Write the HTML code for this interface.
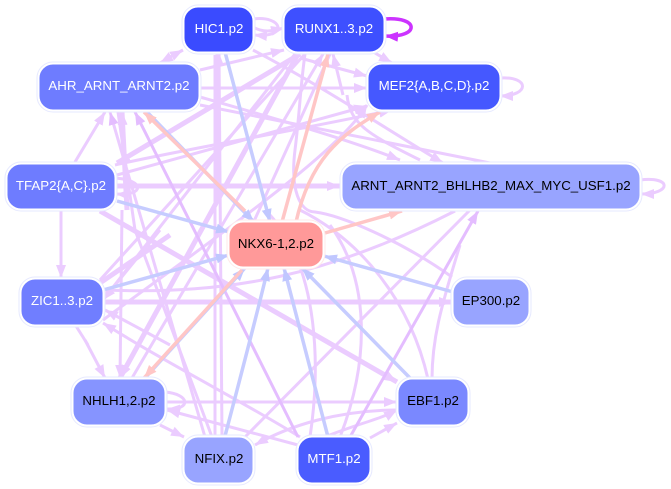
<!DOCTYPE html>
<html><head><meta charset="utf-8"><style>
html,body{margin:0;padding:0;background:#fff}
svg{display:block}
text{font-family:"Liberation Sans",sans-serif;font-size:13.3px;text-anchor:middle}
.p path{fill:none;stroke:#ebccff;stroke-width:3}
.t path{fill:none;stroke:#ebccff;stroke-width:5}
.d path{fill:none;stroke:#e4bdff;stroke-width:3}
.b path{fill:none;stroke:#c6ccff;stroke-width:3.5}
.s path{fill:none;stroke:#ffc6c6;stroke-width:3.5}
.n rect{stroke-width:1;stroke:#fff}
.o rect{fill:#fff;stroke:#e6e9ff;stroke-width:1}
</style></head><body>
<svg width="671" height="489" viewBox="0 0 671 489" xmlns="http://www.w3.org/2000/svg">
<defs>
<marker id="mp" markerUnits="userSpaceOnUse" markerWidth="14" markerHeight="12" refX="13" refY="6" orient="auto"><path d="M0 1L13 6L0 11Z" fill="#ebccff"/></marker>
<marker id="md" markerUnits="userSpaceOnUse" markerWidth="14" markerHeight="12" refX="13" refY="6" orient="auto"><path d="M0 1L13 6L0 11Z" fill="#e4bdff"/></marker>
<marker id="mb" markerUnits="userSpaceOnUse" markerWidth="14" markerHeight="12" refX="13" refY="6" orient="auto"><path d="M0 1L13 6L0 11Z" fill="#c0c7ff"/></marker>
<marker id="ms" markerUnits="userSpaceOnUse" markerWidth="14" markerHeight="12" refX="13" refY="6" orient="auto"><path d="M0 1L13 6L0 11Z" fill="#ffc6c6"/></marker>
<marker id="mv" markerUnits="userSpaceOnUse" markerWidth="14" markerHeight="12" refX="13" refY="6" orient="auto"><path d="M0 1L13 6L0 11Z" fill="#cc33ff"/></marker>
</defs>

<g class="p">
<path marker-end="url(#mp)" d="M172 56L183 50"/>
<path marker-end="url(#mp)" d="M172 56L160 63"/>
<path marker-end="url(#mp)" d="M200 70L284 50"/>
<path marker-end="url(#mp)" d="M200 88L367 88"/>
<path marker-end="url(#mp)" d="M300 58L367 76"/>
<path marker-end="url(#mp)" d="M200 97C280 120 350 140 400 160"/>
<path marker-end="url(#mp)" d="M75 162L105 112"/>
<path marker-end="url(#mp)" d="M61 211L61 278"/>
<path marker-end="url(#mp)" d="M117 175L367 106"/>
<path marker-end="url(#mp)" d="M115 178C145 180 145 196 116 194"/>
<path d="M253 19C282 15 290 38 254 35" marker-end="url(#mp)"/>
<path marker-end="url(#mp)" d="M253 27C265 34 275 30 284 28"/>
<path marker-end="url(#mp)" d="M253 50C320 85 380 125 443 163"/>
<path marker-end="url(#mp)" d="M500 78C530 76 530 96 500 96"/>
<path marker-end="url(#mp)" d="M640 180C672 176 672 194 641 194"/>
<path marker-end="url(#mp)" d="M375 53L392 63"/>
<path d="M88 345L76 326"/><path marker-end="url(#mp)" d="M85 340L105 378"/>
<path marker-end="url(#mp)" d="M122 210L120 378"/>
<path marker-end="url(#mp)" d="M300 437C240 400 170 365 103 323"/>
<path marker-end="url(#mp)" d="M165 402L397 402"/>
<path marker-end="url(#mp)" d="M165 392C190 394 192 410 167 409"/>
<path marker-end="url(#mp)" d="M160 425L184 437"/>
<path marker-end="url(#mp)" d="M370 438L397 423"/>
<path marker-end="url(#mp)" d="M298 445L167 410"/>
<path marker-end="url(#mp)" d="M300 447C350 425 380 420 397 410"/>
<path marker-end="url(#mp)" d="M398 410C340 410 290 425 255 445"/>
<path d="M452 277C400 240 340 215 315 212C300 212 290 190 295 150C300 110 300 90 305 54"/>
<path d="M305 54L100 280"/>
<path d="M330 54L250 230"/>
<path d="M295 54L103 300"/>
<path marker-end="url(#mp)" d="M343 95L333 54"/>
<path d="M347 95C350 125 370 135 420 160"/>
<path marker-end="url(#md)" d="M205 437L110 112"/>
<path d="M212 437L135 230L118 112"/>
<path d="M215 55L215 437"/>
<path marker-end="url(#mp)" d="M222 437L219 53"/>
<path d="M340 437C370 360 370 280 330 225"/>
<path d="M310 437C320 370 320 270 270 215"/>
<path d="M428 379C410 300 360 240 300 210"/>
<path d="M432 379C432 340 440 310 460 245"/>
<path d="M105 290C230 295 330 275 455 211"/>
<path d="M245 437L470 210"/>
<path marker-end="url(#mp)" d="M132 378L323 54"/>
<path marker-end="url(#mp)" d="M115 165C180 150 300 130 392 110"/>
<path marker-end="url(#mp)" d="M103 320C240 220 340 150 367 105"/>
<path marker-end="url(#mp)" d="M160 230L103 300"/>
<path marker-end="url(#mp)" d="M170 345L105 310"/>
<path d="M200 105L490 163"/>
</g>

<g class="t">
<path marker-end="url(#mp)" d="M115 186L340 186"/>
<path marker-end="url(#mp)" d="M300 54L117 163"/>
<path marker-end="url(#mp)" d="M103 302L452 302"/>
<path marker-end="url(#mp)" d="M298 54L120 378"/>
<path marker-end="url(#mp)" d="M127 210L122 112"/>
<path marker-end="url(#mp)" d="M218 200L218 53"/>
<path marker-end="url(#mp)" d="M100 211L397 382"/>
<path d="M100 283L170 235"/>
</g>

<g class="d">
<path marker-end="url(#md)" d="M350 437L478 211"/>
<path marker-end="url(#md)" d="M298 437L135 112"/>
</g>

<g class="b">
<path marker-end="url(#mb)" d="M225 52L270 222"/>
<path marker-end="url(#mb)" d="M147 112L254 222"/>
<path marker-end="url(#mb)" d="M117 201L229 232"/>
<path marker-end="url(#mb)" d="M103 290L229 255"/>
<path marker-end="url(#mb)" d="M145 378L245 268"/>
<path marker-end="url(#mb)" d="M225 436C245 360 258 310 268 268"/>
<path marker-end="url(#mb)" d="M328 437L284 268"/>
<path marker-end="url(#mb)" d="M410 378L302 268"/>
<path marker-end="url(#mb)" d="M453 292L324 256"/>
</g>

<g class="s">
<path marker-end="url(#ms)" d="M282 222L328 54"/>
<path marker-end="url(#ms)" d="M296 222C310 160 340 135 380 112"/>
<path marker-end="url(#ms)" d="M325 233L402 211"/>
<path marker-end="url(#ms)" d="M245 211L144 112"/>
<path marker-end="url(#ms)" d="M242 270L144 378"/>
</g>

<path d="M384 19C420 16 420 38 385 36" fill="none" stroke="#cc33ff" stroke-width="3.5" marker-end="url(#mv)"/>

<g class="o">
<rect x="182" y="5" width="73" height="49" rx="16"/>
<rect x="282" y="5" width="104" height="49" rx="16"/>
<rect x="37" y="62" width="164" height="50" rx="16"/>
<rect x="366" y="62" width="136" height="50" rx="16"/>
<rect x="5" y="162" width="112" height="49" rx="16"/>
<rect x="340" y="162" width="302" height="49" rx="16"/>
<rect x="227" y="220" width="98" height="49" rx="16" style="stroke:#ffe9e9"/>
<rect x="19" y="277" width="86" height="50" rx="16"/>
<rect x="451" y="277" width="80" height="50" rx="16"/>
<rect x="71" y="377" width="96" height="50" rx="16"/>
<rect x="396" y="377" width="74" height="50" rx="16"/>
<rect x="182" y="435" width="73" height="50" rx="16"/>
<rect x="296" y="435" width="76" height="50" rx="16"/>
</g>
<g class="n">
<rect x="184" y="7" width="69" height="45" rx="14" fill="#3a4bff"/>
<rect x="284" y="7" width="100" height="45" rx="14" fill="#3e50ff"/>
<rect x="39" y="64" width="160" height="46" rx="14" fill="#6e7cff"/>
<rect x="368" y="64" width="132" height="46" rx="14" fill="#4558ff"/>
<rect x="7" y="164" width="108" height="45" rx="14" fill="#6e7cff"/>
<rect x="342" y="164" width="298" height="45" rx="14" fill="#98a4ff"/>
<rect x="229" y="222" width="94" height="45" rx="14" fill="#ff9999"/>
<rect x="21" y="279" width="82" height="46" rx="14" fill="#707eff"/>
<rect x="453" y="279" width="76" height="46" rx="14" fill="#98a4ff"/>
<rect x="73" y="379" width="92" height="46" rx="14" fill="#8694ff"/>
<rect x="398" y="379" width="70" height="46" rx="14" fill="#7a88ff"/>
<rect x="184" y="437" width="69" height="46" rx="14" fill="#98a4ff"/>
<rect x="298" y="437" width="72" height="46" rx="14" fill="#4a5cff"/>
</g>
<g fill="#fff">
<text x="219" y="33">HIC1.p2</text>
<text x="334" y="33">RUNX1..3.p2</text>
<text x="119" y="90">AHR_ARNT_ARNT2.p2</text>
<text x="434" y="90">MEF2{A,B,C,D}.p2</text>
<text x="61" y="190">TFAP2{A,C}.p2</text>
<text x="62" y="305">ZIC1..3.p2</text>
<text x="334" y="463">MTF1.p2</text>
</g>
<g fill="#000">
<text x="491" y="190">ARNT_ARNT2_BHLHB2_MAX_MYC_USF1.p2</text>
<text x="276" y="248">NKX6-1,2.p2</text>
<text x="491" y="305">EP300.p2</text>
<text x="119" y="405">NHLH1,2.p2</text>
<text x="433" y="405">EBF1.p2</text>
<text x="219" y="463">NFIX.p2</text>
</g>
</svg>
</body></html>
